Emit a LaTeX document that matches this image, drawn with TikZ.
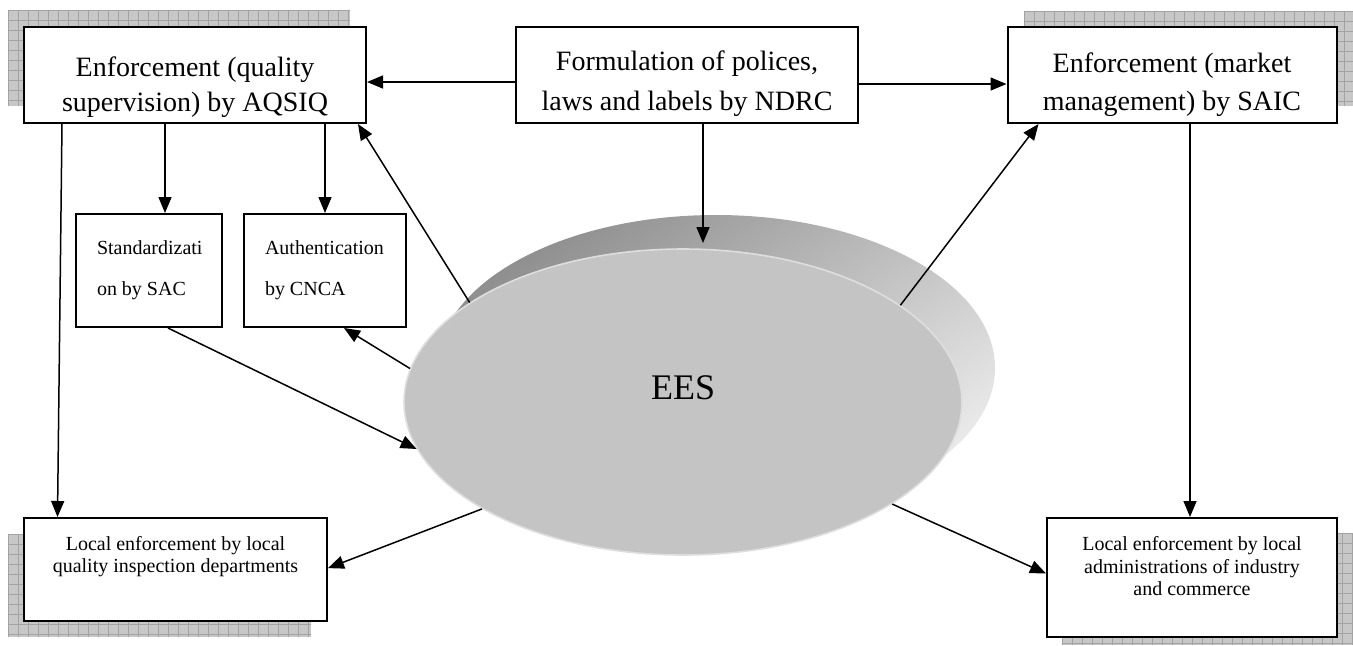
\documentclass[tikz,border=0pt]{standalone}
\usepackage{fontspec}
\setmainfont{Liberation Serif}
\usetikzlibrary{arrows.meta,shapes.geometric,calc}
\begin{document}
\begin{tikzpicture}[x=0.5pt,y=-0.5pt,
  box/.style={draw=black, line width=1pt, fill=white, inner sep=0pt},
  arr/.style={line width=0.75pt, -{Triangle[length=8pt,width=6.5pt]}},
  shad/.style={fill=black!22},
  gridl/.style={black!36, line width=0.4pt}]
\useasboundingbox (0,0) rectangle (1353,645);
% ---- grid shadows
\fill[shad] (8,10) rectangle (350,106);
\foreach \gx in {8,18,...,350} \draw[gridl] (\gx,10) -- (\gx,106);
\foreach \gy in {10,20,...,106} \draw[gridl] (8,\gy) -- (350,\gy);
\fill[shad] (1024,11) rectangle (1353,106);
\foreach \gx in {1024,1034,...,1353} \draw[gridl] (\gx,11) -- (\gx,106);
\foreach \gy in {11,21,...,106} \draw[gridl] (1024,\gy) -- (1353,\gy);
\fill[shad] (8,534) rectangle (311,637);
\foreach \gx in {8,18,...,311} \draw[gridl] (\gx,534) -- (\gx,637);
\foreach \gy in {534,544,...,637} \draw[gridl] (8,\gy) -- (311,\gy);
\fill[shad] (1062,533) rectangle (1353,645);
\foreach \gx in {1062,1072,...,1353} \draw[gridl] (\gx,533) -- (\gx,645);
\foreach \gy in {533,543,...,645} \draw[gridl] (1062,\gy) -- (1353,\gy);
% ---- boxes
\node[box] (aqsiq) at (195,75) {\parbox[c][48pt][t]{171pt}{\centering\fontsize{14}{17.5}\selectfont\vspace*{14.8pt}Enforcement (quality\\supervision) by AQSIQ}};
\node[box] (ndrc) at (687,75) {\parbox[c][48pt][t]{171pt}{\centering\fontsize{14}{20}\selectfont\vspace*{12pt}Formulation of polices,\\laws and labels by NDRC}};
\node[box] (saic) at (1172,75) {\parbox[c][48pt][t]{164.5pt}{\centering\fontsize{14}{19}\selectfont\vspace*{12.8pt}Enforcement (market\\management) by SAIC}};
\node[box] (std) at (149,270.5) {\parbox[c][56.5pt][t]{73pt}{\raggedright\leftskip=10.5pt\fontsize{10}{20.5}\selectfont\vspace*{13.2pt}Standardizati\\on by SAC}};
\node[box] (auth) at (325,270.5) {\parbox[c][56.5pt][t]{81pt}{\raggedright\leftskip=10.5pt\fontsize{10}{20.5}\selectfont\vspace*{13.2pt}Authentication\\by CNCA}};
\node[box] (locl) at (175.5,569.5) {\parbox[c][51.5pt][t]{151.5pt}{\centering\fontsize{10}{11}\selectfont\vspace*{9.2pt}Local enforcement by local\\quality inspection departments}};
\node[box] (locr) at (1192,577.5) {\parbox[c][59.5pt][t]{145pt}{\centering\fontsize{10}{11.25}\selectfont\vspace*{9.2pt}Local enforcement by local\\administrations of industry\\and commerce}};
% ---- EES disk
\node[ellipse, inner sep=0pt, minimum width=279pt, minimum height=153pt,
      top color=black!44, bottom color=black!8, shading angle=35] (eesb) at (716,368) {};
\node[ellipse, inner sep=0pt, minimum width=279pt, minimum height=153pt,
      fill=black!23, draw=black!13, line width=0.8pt,
      font=\fontsize{18}{20}\selectfont] (ees) at (683,402) {\raisebox{1.5pt}[0pt][0pt]{EES}};
\coordinate (tipn) at (703,243);
% ---- connectors
\draw[arr] ([yshift=-3.5pt]ndrc.west) -- ([yshift=-3.5pt]aqsiq.east);
\draw[arr] ([yshift=-4.5pt]ndrc.east) -- ([yshift=-4.5pt]saic.west);
\draw[arr] ([xshift=8pt]ndrc.south) -- (tipn);
\draw[arr] ([xshift=8pt]std.north |- aqsiq.south) -- ([xshift=8pt]std.north);
\draw[arr] (auth.north |- aqsiq.south) -- (auth.north);
\draw[arr] ([xshift=-66.5pt]aqsiq.south) -- ([xshift=-59pt]locl.north);
\draw[arr] (ees.155) -- ([xshift=-4.5pt]aqsiq.south east);
\draw[arr] (ees.173) -- ([xshift=9.5pt]auth.south);
\draw[arr] ([xshift=9.5pt]std.south) -- (ees.190);
\draw[arr] (ees.208) -- ([yshift=0.7pt]locl.east);
\draw[arr] (ees.24.6) -- ([xshift=16pt]saic.south west);
\draw[arr] (ees.334.5) -- ([yshift=2pt]locr.west);
\draw[arr] ([xshift=9pt]saic.south) -- ([xshift=-1pt]locr.north);
\end{tikzpicture}
\end{document}
